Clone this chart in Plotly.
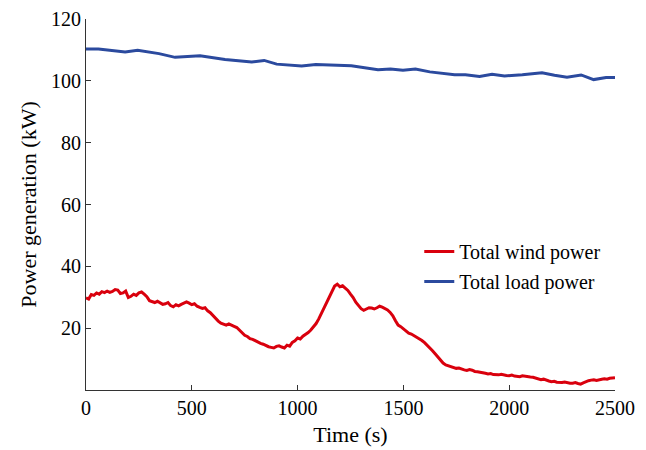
import plotly.graph_objects as go

# Total load power (kW)
load_t = [0, 59, 185, 244, 345, 421, 539, 657, 783, 842, 901, 1019, 1086, 1254, 1380, 1439,
          1498, 1557, 1625, 1675, 1742, 1793, 1860, 1919, 1978, 2062, 2155, 2214, 2273, 2340,
          2399, 2458, 2500]
load_p = [110.3, 110.3, 109.3, 109.9, 108.8, 107.6, 108.1, 106.9, 106.1, 106.6, 105.4, 104.8,
          105.3, 104.9, 103.6, 103.8, 103.4, 103.8, 102.9, 102.6, 102.0, 102.0, 101.4, 102.1,
          101.6, 102.0, 102.6, 101.8, 101.2, 101.9, 100.4, 101.1, 101.1]

# Total wind power (kW), sampled every 12.5 s
wind_t = [i * 12.5 for i in range(201)]
wind_p = [29.8, 29.4, 30.9, 30.6, 31.4, 31.0, 31.8, 31.5, 32.0, 31.6, 31.9, 32.5, 32.3, 31.2,
          31.4, 32.0, 29.9, 30.3, 31.0, 30.6, 31.4, 31.7, 31.0, 30.2, 28.9, 28.6, 28.3, 28.7,
          28.2, 27.7, 27.9, 28.3, 27.3, 26.9, 27.6, 27.2, 27.7, 28.0, 28.5, 28.1, 27.6, 27.9,
          27.1, 26.7, 26.4, 26.6, 25.6, 25.0, 24.0, 23.3, 22.3, 21.6, 21.2, 21.0, 21.4, 20.9,
          20.6, 20.2, 19.4, 18.5, 17.7, 17.3, 16.6, 16.4, 15.9, 15.6, 15.1, 14.8, 14.3, 14.0,
          13.8, 13.6, 14.1, 14.3, 13.9, 13.6, 14.5, 14.2, 15.4, 15.9, 16.8, 16.5, 17.4, 17.9,
          18.6, 19.4, 20.4, 21.5, 23.0, 24.8, 26.8, 28.6, 30.5, 32.2, 33.6, 34.2, 33.4, 33.7,
          32.9, 32.2, 31.0, 29.9, 28.4, 27.2, 26.3, 25.8, 26.1, 26.6, 26.5, 26.2, 26.6, 27.1,
          26.8, 26.4, 25.9, 25.1, 24.0, 22.4, 21.0, 20.5, 19.7, 19.0, 18.4, 18.1, 17.6, 17.0,
          16.5, 16.0, 15.3, 14.5, 13.6, 12.7, 11.7, 10.6, 9.6, 8.7, 8.1, 7.8, 7.6, 7.3, 7.0,
          7.1, 6.7, 6.5, 6.3, 6.6, 6.4, 6.0, 5.9, 5.8, 5.6, 5.4, 5.2, 5.3, 5.0, 4.9, 4.9, 5.1,
          4.8, 4.7, 4.6, 4.8, 4.5, 4.4, 4.3, 4.6, 4.4, 4.3, 4.2, 4.1, 3.8, 3.5, 3.3, 3.5, 3.1,
          2.9, 2.7, 2.8, 2.5, 2.4, 2.4, 2.6, 2.3, 2.2, 2.2, 2.4, 2.1, 1.9, 2.3, 2.7, 3.0, 3.2,
          3.3, 3.1, 3.4, 3.5, 3.6, 3.5, 3.8, 3.9, 4.0]

x_ticks = [0, 500, 1000, 1500, 2000, 2500]
y_ticks = [20, 40, 60, 80, 100, 120]

FONT = "Liberation Serif, 'Times New Roman', Times, serif"

fig = go.Figure()
fig.add_trace(go.Scatter(x=wind_t, y=wind_p, mode="lines", name="Total wind power",
                         legendgroup="a", line=dict(color="#d9000d", width=3)))
fig.add_trace(go.Scatter(x=load_t, y=load_p, mode="lines", name="Total load power",
                         legendgroup="b", line=dict(color="#2b4a9e", width=3)))

axis_common = dict(showgrid=False, zeroline=False, showline=True, linecolor="#333333",
                   linewidth=1, ticks="inside", ticklen=5, tickcolor="#333333",
                   tickfont=dict(family=FONT, size=20, color="black"), mirror=False,
                   automargin=False)

fig.update_xaxes(range=[0, 2500], tickvals=x_ticks,
                 title=dict(text="Time (s)", font=dict(family=FONT, size=22, color="black"),
                            standoff=8),
                 **axis_common)
fig.update_yaxes(range=[0, 120], tickvals=y_ticks,
                 title=dict(text="Power generation (kW)",
                            font=dict(family=FONT, size=22, color="black"), standoff=8),
                 **axis_common)

# page body has an 8px margin, so the figure is sized to fit the 646x450 window
fig.update_layout(
    width=638, height=442,
    margin=dict(l=78, r=31, t=11, b=60),
    paper_bgcolor="white", plot_bgcolor="white",
    font=dict(family=FONT, color="black"),
    legend=dict(x=0.63, y=0.333, xanchor="left", yanchor="middle",
                font=dict(family=FONT, size=20, color="black"),
                bgcolor="rgba(0,0,0,0)", traceorder="grouped", tracegroupgap=1),
)

fig.write_html("out.html")
